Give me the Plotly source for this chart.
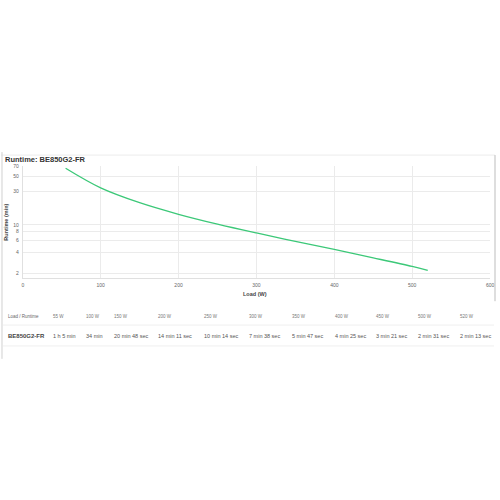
import plotly.graph_objects as go

loads = [55, 100, 150, 200, 250, 300, 350, 400, 450, 500, 520]
runtime_min = [65, 34, 20.8, 14.18, 10.23, 7.63, 5.78, 4.42, 3.35, 2.52, 2.22]
load_labels = ["55 W", "100 W", "150 W", "200 W", "250 W", "300 W", "350 W", "400 W", "450 W", "500 W", "520 W"]
runtime_labels = ["1 h 5 min", "34 min", "20 min 48 sec", "14 min 11 sec", "10 min 14 sec",
                  "7 min 38 sec", "5 min 47 sec", "4 min 25 sec", "3 min 21 sec", "2 min 31 sec", "2 min 13 sec"]
model = "BE850G2-FR"
y_ticks = [2, 4, 6, 8, 10, 30, 50, 70]
x_ticks = [0, 100, 200, 300, 400, 500, 600]

W = H = 500
def px(x): return x / W
def py(y): return 1 - y / H

fig = go.Figure()
fig.add_trace(go.Scatter(x=loads, y=runtime_min, mode="lines",
                         line=dict(color="#3cc878", width=1.3, shape="spline"),
                         hoverinfo="skip", showlegend=False))

fig.update_layout(
    width=W, height=H, margin=dict(l=0, r=0, t=0, b=0),
    paper_bgcolor="white", plot_bgcolor="white",
    font=dict(family="Liberation Sans, Arial, sans-serif", color="#555"),
    xaxis=dict(domain=[px(22), px(494)], range=[0, 600], tickvals=x_ticks,
               showgrid=True, gridcolor="#ebebeb", gridwidth=1, zeroline=False,
               showline=True, linecolor="#e0e0e0", ticks="", tickfont=dict(size=5, color="#666"),
               ticklabelstandoff=2),
    yaxis=dict(domain=[py(276.5), py(164)], type="log", range=[0.238, 1.845],
               tickvals=y_ticks, ticktext=[str(v) for v in y_ticks],
               showgrid=True, gridcolor="#ebebeb", gridwidth=1, zeroline=False,
               showline=True, linecolor="#e0e0e0", ticks="", tickfont=dict(size=5, color="#666"),
               ticklabelstandoff=2),
)

shapes = []
shapes.append(dict(type="line", xref="paper", yref="paper", x0=px(0), x1=px(499), y0=py(153), y1=py(153),
                   line=dict(color="#ececec", width=1)))
shapes.append(dict(type="line", xref="paper", yref="paper", x0=px(499), x1=px(499), y0=py(153), y1=py(300),
                   line=dict(color="#bdbdbd", width=1)))
shapes.append(dict(type="line", xref="paper", yref="paper", x0=px(1), x1=px(1), y0=py(150), y1=py(358),
                   line=dict(color="#d0d0d0", width=1)))
shapes.append(dict(type="line", xref="paper", yref="paper", x0=px(2), x1=px(498), y0=py(324), y1=py(324),
                   line=dict(color="#efefef", width=1)))
shapes.append(dict(type="line", xref="paper", yref="paper", x0=px(2), x1=px(498), y0=py(345), y1=py(345),
                   line=dict(color="#efefef", width=1)))
fig.update_layout(shapes=shapes)

ann = []
ann.append(dict(text="<b>Runtime: " + model + "</b>", x=px(2), y=py(157), xref="paper", yref="paper",
                xanchor="left", yanchor="middle", showarrow=False, font=dict(size=7.5, color="#333")))
ann.append(dict(text="<b>Runtime (min)</b>", x=px(5), y=py(220), xref="paper", yref="paper",
                xanchor="center", yanchor="middle", textangle=-90, showarrow=False,
                font=dict(size=5.5, color="#444")))
ann.append(dict(text="<b>Load (W)</b>", x=px(257), y=py(293), xref="paper", yref="paper",
                xanchor="center", yanchor="middle", showarrow=False, font=dict(size=5.5, color="#444")))

col_x = [50, 84, 112, 157, 203, 248, 292, 335, 377, 419, 462]
ann.append(dict(text="Load / Runtime", x=px(5), y=py(315), xref="paper", yref="paper",
                xanchor="left", yanchor="middle", showarrow=False, font=dict(size=4.5, color="#666")))
ann.append(dict(text="<b>" + model + "</b>", x=px(5), y=py(335), xref="paper", yref="paper",
                xanchor="left", yanchor="middle", showarrow=False, font=dict(size=6, color="#444")))
for cx, lab, rt in zip(col_x, load_labels, runtime_labels):
    ann.append(dict(text=lab, x=px(cx), y=py(315), xref="paper", yref="paper",
                    xanchor="left", yanchor="middle", showarrow=False, font=dict(size=4.5, color="#777")))
    ann.append(dict(text=rt, x=px(cx), y=py(335), xref="paper", yref="paper",
                    xanchor="left", yanchor="middle", showarrow=False, font=dict(size=5.5, color="#555")))
fig.update_layout(annotations=ann)

fig.write_html("out.html", config={"displayModeBar": False},
               post_script="document.body.style.margin='0';document.body.style.padding='0';")
